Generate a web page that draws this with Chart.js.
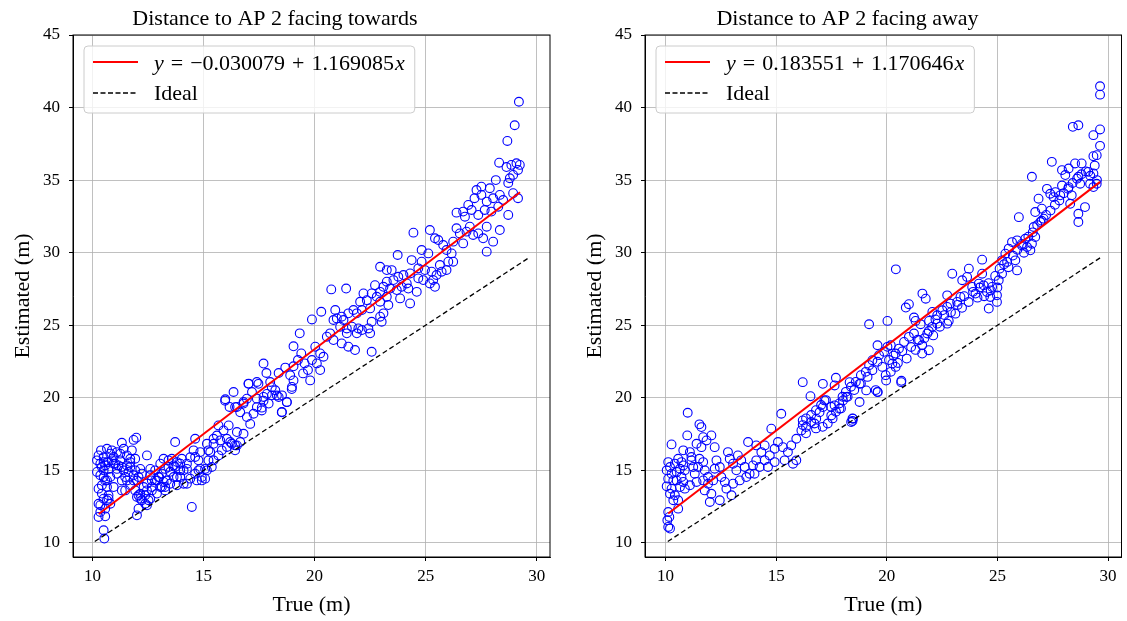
<!DOCTYPE html>
<html>
<head>
<meta charset="utf-8">
<script src="https://cdn.jsdelivr.net/npm/chart.js@4.4.1/dist/chart.umd.min.js"></script>
<style>
  html, body { margin: 0; padding: 0; background: #fff; }
  #wrap { position: relative; width: 1127px; height: 621px; }
  canvas { position: absolute; top: 0; }
</style>
</head>
<body>
<div id="wrap">
  <canvas id="towards" width="572" height="621" style="left:0"></canvas>
  <canvas id="away" width="555" height="621" style="left:572px"></canvas>
</div>
<script>
// ticks
const xTicks = [10, 15, 20, 25, 30];
const yTicks = [10, 15, 20, 25, 30, 35, 40, 45];

// left panel: facing towards
const towardsTrue = [
  10.27, 10.57, 10.5, 10.53, 10.27, 10.35, 10.65, 10.42, 10.57, 10.38, 10.5, 10.65, 10.87, 11.1, 11.32, 10.95, 10.72, 10.5, 10.8, 11.1,
  11.4, 11.25, 11.55, 11.77, 11.85, 11.97, 11.7, 11.47, 11.55, 11.32, 11.92, 10.95, 10.72, 10.8,
  11.92, 12.07, 12.22, 12.37, 12.6, 12.45, 12.67, 12.9, 13.12, 13.35, 13.0, 13.5, 13.72, 13.95, 13.8, 14.1, 13.57, 13.72, 12.45, 12.6,
  12.15, 12.0, 14.47, 12.0, 12.9, 13.27, 14.25, 14.4, 14.62, 14.55, 14.77, 14.85, 15.07, 14.92, 15.15, 15.22, 15.3, 15.45, 15.6, 15.67,
  15.9, 16.05, 16.2, 16.42, 16.5, 16.13, 16.35, 15.97, 16.42, 16.65, 16.8, 16.95, 17.1, 17.25, 17.4, 17.62, 17.7, 17.85, 18.07, 18.3,
  18.52, 18.75, 18.97, 17.02, 17.47,
  15.07, 14.77, 14.62, 14.25, 14.4, 14.7, 14.92, 15.37, 15.45, 15.67, 15.82, 16.05, 16.27, 16.5, 16.42, 16.65, 16.8, 15.75, 15.45, 15.15,
  15.22, 14.85, 14.62, 14.02, 13.8, 13.65, 13.42, 13.27, 13.12, 12.97, 12.82, 12.67, 12.45, 12.3, 12.15, 12.0, 12.37, 12.52, 12.15, 12.07,
  12.45, 12.67, 13.05, 13.27, 13.2, 13.5, 13.65, 13.95, 14.1, 13.8, 14.25, 13.95, 13.42, 13.2, 13.05, 12.82, 12.6, 12.22, 12.07, 11.85,
  11.7, 11.47, 11.32,
  10.2, 10.35, 10.42, 10.57, 10.72, 10.87, 11.02, 11.17, 11.32, 11.55, 11.7, 11.25, 11.4, 10.95, 10.8, 10.65, 10.27, 10.2, 10.35, 10.5,
  10.65, 10.42, 10.65, 10.5, 10.27, 10.72, 10.57, 10.35, 11.1, 11.62, 11.85, 11.92, 11.7, 10.5,
  15.98, 16.17, 16.5, 16.8, 17.03, 17.4, 17.18, 16.95, 17.4, 17.7, 17.62, 17.93, 18.08, 18.23, 18.38, 18.53, 18.75, 18.53, 18.98, 19.05,
  17.7, 17.83, 18.0, 18.38, 18.68, 18.9, 19.05, 19.05, 19.8,
  29.2, 29.01, 28.68, 28.31, 28.64, 28.86, 29.09, 29.24, 29.16, 28.94, 28.79, 28.72, 28.16, 27.89, 27.51, 27.29, 27.2, 27.51, 27.75, 28.04,
  28.34, 28.49, 28.27, 28.72, 29.16, 28.94, 26.39, 26.69, 26.77, 26.92, 27.07, 27.37, 27.66, 27.96, 26.39, 26.54, 26.69, 26.84, 26.99, 27.14,
  27.37, 27.59, 27.75, 28.04, 28.34, 27.75, 25.19, 25.42, 25.57, 25.79, 25.94, 26.24, 26.17, 24.45, 24.82, 25.12, 24.82, 24.67, 24.97, 25.27,
  25.49, 25.72, 25.94, 26.02, 26.24, 25.64, 25.34, 25.19, 25.42, 24.89, 24.67, 24.37, 24.3, 23.74, 23.47, 23.25, 22.95, 23.55, 23.77, 24.0,
  24.15, 23.92, 23.7, 23.4, 23.25, 23.1, 22.95, 22.72, 22.57, 22.8, 23.25, 23.32, 23.85, 24.22, 24.6, 24.3, 22.95, 22.5, 20.75, 21.42,
  22.2, 22.05, 22.35, 22.13, 21.9, 21.75, 21.52, 21.3, 21.22, 20.93, 21.0, 20.85, 20.3, 19.88, 21.15, 21.45, 21.68, 21.97, 22.13, 22.42,
  22.57, 22.95, 23.1, 23.02, 22.5, 21.9, 21.45, 20.7, 20.55, 20.85, 21.22, 21.52, 21.82, 22.57, 20.03, 20.25, 20.4, 19.88, 20.1, 20.25,
  19.33, 19.4, 19.55, 19.7, 19.48, 19.25
];
const towardsEst = [
  11.79, 11.83, 10.87, 10.3, 13.74, 12.6, 12.94, 13.4, 14.3, 16.38, 15.9, 15.57, 16.38, 16.26, 16.9, 15.46, 15.1, 15.0, 14.54, 14.77,
  15.0, 15.69, 16.03, 16.38, 17.1, 17.25, 15.57, 14.54, 14.3, 13.62, 15.0, 13.85, 13.28, 12.7,
  13.62, 13.28, 12.94, 12.7, 13.05, 13.62, 13.85, 14.3, 13.85, 14.3, 14.54, 14.9, 15.23, 15.46, 14.54, 15.0, 15.8, 16.95, 16.03, 15.1,
  15.1, 14.3, 12.48, 11.9, 13.4, 13.62, 15.46, 15.9, 17.18, 16.38, 15.69, 15.1, 14.43, 14.54, 15.0, 15.69, 16.26, 16.83, 17.4, 18.1,
  17.75, 17.18, 16.95, 16.72, 17.64, 18.1, 20.4, 19.8, 19.36, 19.0, 19.6, 18.67, 18.2, 18.9, 19.36, 19.13, 19.8, 20.27, 20.73, 20.16,
  19.0, 19.7, 20.6, 20.96, 20.96,
  15.1, 15.0, 14.77, 15.1, 14.43, 14.31, 14.31, 15.23, 15.69, 16.03, 16.38, 16.61, 16.83, 16.72, 16.38, 16.95, 17.52, 17.06, 17.18, 16.83,
  16.38, 16.26, 15.92, 15.8, 15.57, 15.34, 15.23, 15.1, 14.77, 14.54, 14.31, 14.31, 14.08, 13.85, 13.39, 13.17, 13.28, 12.94, 13.05, 12.36,
  12.59, 13.62, 13.85, 13.85, 14.2, 14.08, 14.54, 14.54, 14.08, 13.97, 14.08, 15.0, 15.69, 15.8, 15.46, 15.0, 14.66, 14.77, 14.54, 14.31,
  13.97, 13.62, 14.31,
  15.69, 15.46, 15.23, 15.34, 15.57, 15.69, 15.46, 15.34, 15.23, 15.34, 15.8, 16.15, 16.49, 15.92, 16.15, 16.49, 16.03, 14.89, 14.66, 14.54,
  14.31, 13.97, 13.85, 13.05, 12.7, 13.05, 12.36, 12.13, 15.1, 14.89, 14.66, 15.8, 15.23, 15.57,
  19.9, 19.37, 19.37, 19.71, 20.98, 21.09, 20.4, 19.94, 19.94, 20.06, 19.32, 19.6, 20.17, 20.52, 20.06, 20.17, 19.71, 19.02, 20.75, 21.2,
  22.36, 21.71, 21.09, 21.71, 22.08, 21.55, 22.17, 23.55, 21.2,
  40.4, 38.78, 37.7, 36.2, 35.9, 36.05, 36.16, 36.05, 35.7, 35.36, 35.13, 34.8, 35.0, 34.44, 34.55, 34.32, 33.75, 33.98, 33.52, 33.75,
  33.98, 33.63, 33.17, 32.6, 33.75, 34.1, 32.76, 32.83, 32.48, 33.29, 32.94, 32.6, 32.94, 32.83, 31.68, 31.33, 30.64, 31.45, 31.79, 31.22,
  31.33, 30.99, 31.79, 30.76, 31.56, 30.07, 31.56, 30.99, 30.87, 30.53, 30.18, 30.76, 29.95, 31.38, 30.18, 29.95, 29.38, 28.92, 28.8, 28.69,
  28.46, 28.69, 28.8, 29.38, 29.38, 29.15, 28.11, 27.88, 27.65, 28.11, 28.23, 29.49, 28.57, 29.84, 28.8, 28.8, 29.03, 28.11, 28.34, 28.46,
  27.88, 27.65, 27.42, 27.53, 28.0, 27.65, 27.3, 27.76, 27.19, 26.96, 26.96, 26.39, 26.85, 27.53, 27.3, 26.5, 26.62, 26.16, 27.47, 27.53,
  27.19, 26.62, 26.73, 26.05, 25.82, 26.05, 25.82, 25.36, 25.59, 26.05, 25.47, 25.36, 25.93, 25.4, 24.9, 24.78, 24.9, 24.78, 24.67, 24.78,
  25.24, 25.59, 25.82, 25.24, 24.44, 24.44, 24.44, 24.44, 24.21, 23.98, 23.75, 23.52, 23.29, 23.17, 23.52, 23.06, 22.83, 22.6, 22.37, 21.91,
  24.44, 23.06, 22.37, 21.91, 21.68, 22.6
];
const towardsFit = [-0.030079, 1.169085];   // intercept, slope
const towardsFitX = [10.28, 29.25];
const towardsIdealX = [10.1, 29.6];

// right panel: facing away
const awayTrue = [
  10.12, 10.2, 10.08, 10.17, 10.12, 10.05, 10.12, 10.05, 10.12, 10.27, 10.2, 10.27, 10.35, 10.27, 10.2, 10.42, 10.35, 10.57, 10.57, 10.5,
  10.5, 10.65, 10.42, 10.57, 10.72, 10.8, 10.87, 10.72, 10.8, 10.87, 10.65, 10.8, 10.98, 11.0, 11.1, 11.17, 11.25, 11.32, 11.17, 11.4,
  11.53, 11.62, 11.7, 11.85, 12.07, 11.62, 11.53, 11.7, 11.47, 11.77, 11.92, 11.77, 12.0, 12.07, 12.22, 12.3, 12.45, 12.22, 12.52, 12.68,
  12.45, 12.75, 12.98, 12.82, 12.9, 13.05, 13.2, 13.27, 13.42, 13.58, 13.73, 13.8, 13.95, 14.1, 14.1, 14.33, 14.48, 14.63, 14.78, 14.48,
  14.71, 14.93, 15.08, 15.23, 15.3, 15.38, 15.53, 15.68, 15.91, 16.14, 16.2, 16.35, 16.58, 16.55, 16.81, 16.96, 17.11, 17.18, 17.49, 17.64,
  17.86, 18.02, 18.17, 18.47, 18.39, 18.77, 19.07, 19.59, 16.2, 17.11, 17.64, 18.32, 18.77, 19.97, 20.65, 15.91, 15.76, 14.93, 14.25, 14.02,
  13.65, 13.35, 13.05, 11.92, 12.15, 11.7, 11.4, 11.1,
  17.7, 18.83, 19.05, 19.2, 19.35, 19.58, 19.65, 19.88, 20.03, 20.18, 20.4, 20.55, 20.78, 21.0, 21.23, 21.46, 21.6, 21.6, 21.9, 21.83,
  22.05, 22.28, 22.73, 19.58, 20.4, 19.95, 20.18, 20.66, 20.25, 19.8, 19.35, 19.13, 18.6,
  16.2, 16.35, 16.58, 16.73, 16.8, 17.03, 17.25, 17.48, 17.7, 17.85, 18.0, 18.15, 18.38, 19.5, 19.58, 18.45, 18.45, 18.53, 18.23, 17.93,
  17.55, 17.33, 17.1, 16.8, 16.35, 18.83,
  19.2, 20.03, 20.41, 20.86, 21.0, 21.61, 21.76, 21.23, 21.3, 21.53, 21.91, 22.06, 22.28, 22.51, 22.73, 22.73, 22.96, 22.88, 23.18, 23.33,
  23.41, 23.63, 23.71, 23.86, 24.01, 24.16, 24.31, 24.31, 24.38, 24.53, 24.61, 24.68, 24.76, 24.98, 24.98, 25.06, 25.21, 25.21, 25.36, 25.44,
  25.51, 25.66, 25.89, 25.81, 25.89, 25.97, 26.11, 26.26, 26.34, 26.49, 26.56, 26.64, 26.71, 26.71, 27.01, 26.94, 27.09, 26.86, 27.24, 27.39,
  27.62, 27.54, 27.84, 27.92, 28.22, 28.36, 28.29, 28.66, 28.66, 28.96, 29.19, 29.34, 29.49, 28.74,
  29.64, 29.64, 28.41, 28.66, 29.64, 29.34, 29.64, 29.49, 29.34, 27.46, 26.56, 27.92, 28.22, 28.51, 28.81, 29.11, 29.34, 28.07, 28.66,
  20.1, 20.3, 20.5, 20.7, 20.9, 21.1, 21.3, 21.4, 21.7, 21.9, 22.1, 22.2, 22.4, 22.6, 22.8, 22.9, 23.1, 23.2, 23.4, 23.5,
  23.7, 23.9, 24.1, 24.2, 24.4, 24.6, 24.7, 24.9, 25.0, 25.1, 25.3, 25.5, 25.7, 25.9, 26.1, 26.2, 26.4, 26.6, 26.8, 27.0,
  27.2, 27.4, 27.6, 27.8, 28.0, 28.2, 28.4, 28.6, 28.8, 29.0, 29.2, 29.4, 29.5
];
const awayEst = [
  11.1, 10.99, 11.56, 11.79, 12.13, 13.9, 14.43, 15.0, 15.57, 16.79, 15.23, 14.77, 14.31, 13.74, 13.39, 13.28, 12.94, 12.94, 12.36, 14.31,
  14.89, 15.11, 15.46, 15.8, 15.57, 15.34, 15.0, 14.54, 14.2, 13.74, 13.85, 16.38, 17.41, 18.97, 16.26, 15.69, 15.23, 14.77, 15.92, 16.83,
  18.17, 17.98, 17.29, 17.06, 17.41, 16.6, 15.8, 15.57, 15.23, 15.0, 14.54, 13.62, 12.82, 13.39, 16.6, 15.69, 15.23, 15.11, 14.54, 14.2,
  12.94, 13.74, 13.28, 16.26, 15.8, 15.46, 15.0, 16.03, 15.69, 15.23, 16.95, 14.77, 15.34, 15.69, 16.72, 16.26, 15.69, 15.23, 17.87, 16.72,
  16.03, 16.49, 16.95, 18.9, 16.6, 15.69, 16.26, 16.72, 17.18, 17.75, 18.44, 17.98, 18.33, 20.11, 18.56, 19.0, 19.36, 19.82, 18.78, 19.48,
  19.25, 19.82, 20.05, 18.56, 18.33, 19.71, 20.51, 20.39, 21.08, 20.96, 20.85, 21.08, 20.96, 21.19, 21.08, 15.69, 15.46, 15.57, 15.23, 14.77,
  14.54, 14.31, 14.08, 14.08, 14.31, 14.31, 14.2, 13.97,
  21.38, 21.56, 21.79, 22.25, 22.59, 22.48, 22.94, 23.17, 23.51, 23.62, 23.05, 23.39, 23.85, 24.2, 24.43, 23.97, 23.62, 23.05, 23.28, 24.43,
  24.89, 25.11, 25.11, 23.62, 22.13, 21.56, 21.79, 21.17, 22.36, 22.13, 21.9, 21.44, 21.1,
  18.12, 18.58, 18.81, 18.23, 19.15, 19.5, 19.84, 19.38, 19.04, 19.61, 20.07, 20.41, 20.76, 20.53, 20.41, 18.58, 18.4, 20.53, 20.07, 19.27,
  18.58, 18.23, 18.0, 17.89, 17.55, 20.99,
  25.07, 25.3, 28.85, 26.22, 26.45, 27.18, 26.83, 25.53, 25.3, 25.07, 25.3, 25.92, 25.69, 26.03, 26.26, 27.06, 28.55, 26.49, 26.61, 26.95,
  28.1, 28.33, 28.9, 27.64, 27.18, 27.87, 29.52, 28.55, 27.75, 27.29, 26.15, 26.95, 27.64, 27.06, 26.61, 28.1, 28.55, 29.47, 29.93, 29.36,
  30.28, 30.73, 30.85, 29.47, 28.78, 32.45, 30.5, 30.96, 30.39, 30.16, 30.62, 31.77, 31.08, 32.8, 33.03, 32.11, 32.34, 33.72, 34.4, 34.06,
  34.17, 33.83, 33.95, 34.63, 34.52, 33.95, 33.37, 32.68, 32.11, 33.14, 34.75, 34.52, 34.75, 34.75,
  41.47, 40.89, 38.67, 38.78, 38.49, 38.1, 37.36, 36.72, 36.65, 36.26, 35.23, 35.69, 35.8, 36.15, 36.15, 35.57, 35.46, 35.35, 35.23,
  22.6, 22.9, 22.4, 23.2, 22.7, 23.5, 23.3, 24.0, 24.1, 24.6, 24.3, 25.4, 24.9, 25.7, 25.3, 25.9, 25.8, 26.4, 26.2, 27.0,
  26.6, 27.3, 26.9, 27.6, 27.0, 27.9, 27.4, 28.4, 27.6, 28.9, 29.2, 29.0, 29.8, 30.2, 30.6, 30.0, 31.1, 31.4, 31.9, 32.2,
  32.6, 32.9, 33.3, 33.6, 34.1, 34.4, 34.8, 35.1, 35.4, 35.6, 35.3, 36.0, 35.0
];
const awayFit = [0.183551, 1.170646];       // intercept, slope
const awayFitX = [10.12, 29.64];
const awayIdealX = [10.1, 29.65];

const FONT = "'Liberation Serif', 'Times New Roman', serif";
Chart.defaults.font.family = FONT;
Chart.defaults.color = '#000';

// black box around the axes + matplotlib-like legend
const axesBox = {
  id: 'axesBox',
  afterDraw(chart, args, opts) {
    const { ctx, chartArea: a } = chart;
    ctx.save();
    ctx.strokeStyle = '#000';
    ctx.lineWidth = 1;
    ctx.strokeRect(a.left, a.top, a.right - a.left, a.bottom - a.top);

    // legend
    const b = opts.fit[0], m = opts.fit[1];
    const parts = [
      ['y', true, 7], ['=', false, 7], [(b < 0 ? '\u2212' : '') + Math.abs(b).toFixed(6), false, 7],
      ['+', false, 7], [m.toFixed(6), false, 1], ['x', true, 0]
    ];
    const fs = 22;
    let tw = 0;
    parts.forEach(p => {
      ctx.font = (p[1] ? 'italic ' : '') + fs + 'px ' + FONT;
      tw += ctx.measureText(p[0]).width + p[2];
    });
    const x0 = a.left + 11, y0 = a.top + 11;
    const w = 9 + 45 + 16 + tw + 10, h = 67;
    ctx.beginPath();
    ctx.roundRect(x0, y0, w, h, 4);
    ctx.fillStyle = 'rgba(255,255,255,0.8)';
    ctx.fill();
    ctx.strokeStyle = '#cccccc';
    ctx.stroke();

    ctx.beginPath();
    ctx.strokeStyle = '#ff0000';
    ctx.lineWidth = 2;
    ctx.moveTo(x0 + 9, y0 + 16);
    ctx.lineTo(x0 + 54, y0 + 16);
    ctx.stroke();
    ctx.beginPath();
    ctx.strokeStyle = '#000';
    ctx.lineWidth = 1.3;
    ctx.setLineDash([5, 2.5]);
    ctx.moveTo(x0 + 9, y0 + 47);
    ctx.lineTo(x0 + 54, y0 + 47);
    ctx.stroke();
    ctx.setLineDash([]);

    ctx.fillStyle = '#000';
    ctx.textBaseline = 'middle';
    ctx.textAlign = 'left';
    let tx = x0 + 70;
    parts.forEach(p => {
      ctx.font = (p[1] ? 'italic ' : '') + fs + 'px ' + FONT;
      ctx.fillText(p[0], tx, y0 + 18);
      tx += ctx.measureText(p[0]).width + p[2];
    });
    ctx.font = fs + 'px ' + FONT;
    ctx.fillText('Ideal', x0 + 70, y0 + 48);
    ctx.restore();
  }
};

function makeChart(id, title, xs, ys, fit, fitX, idealX, xMin, xMax, padRight) {
  const points = xs.map((x, i) => ({ x: x, y: ys[i] }));
  const fitLine = fitX.map(x => ({ x: x, y: fit[0] + fit[1] * x }));
  const ideal = idealX.map(x => ({ x: x, y: x }));
  const grid = { color: '#b0b0b0', lineWidth: 0.8, tickLength: 4, tickColor: '#000', tickWidth: 1 };
  new Chart(document.getElementById(id).getContext('2d'), {
    type: 'scatter',
    data: {
      datasets: [
        { data: fitLine, showLine: true, borderColor: '#ff0000', borderWidth: 2, pointRadius: 0, order: 1 },
        { data: ideal, showLine: true, borderColor: '#000', borderWidth: 1.3, borderDash: [5, 3], pointRadius: 0, order: 2 },
        { data: points, pointStyle: 'circle', pointRadius: 4.4, borderWidth: 1.1,
          borderColor: '#0000ff', backgroundColor: 'rgba(0,0,0,0)', order: 3 }
      ]
    },
    options: {
      responsive: false,
      animation: false,
      events: [],
      layout: { padding: { left: 0, right: padRight, top: 0, bottom: 0 } },
      scales: {
        x: {
          type: 'linear', min: xMin, max: xMax,
          afterBuildTicks: s => { s.ticks = xTicks.map(v => ({ value: v })); },
          afterFit: s => { s.height = 64; },
          ticks: { font: { size: 17 }, color: '#000', padding: 5, maxRotation: 0, autoSkip: false },
          grid: grid,
          border: { display: true, color: '#000', width: 1 },
          title: { display: true, text: 'True (m)', font: { size: 22 }, color: '#000', padding: { top: 0, bottom: 3 } }
        },
        y: {
          type: 'linear', min: 9.03, max: 45,
          afterBuildTicks: s => { s.ticks = yTicks.map(v => ({ value: v })); },
          afterFit: s => { s.width = 73; },
          ticks: { font: { size: 17 }, color: '#000', padding: 9, autoSkip: false },
          grid: grid,
          border: { display: true, color: '#000', width: 1 },
          title: { display: true, text: 'Estimated (m)', font: { size: 22 }, color: '#000', padding: { top: 10, bottom: 0 } }
        }
      },
      plugins: {
        legend: { display: false },
        tooltip: { enabled: false },
        title: { display: true, text: title, font: { size: 22, weight: 'normal' }, color: '#000', padding: { top: 6, bottom: 2.6 } },
        axesBox: { fit: fit }
      }
    },
    plugins: [axesBox]
  });
}

makeChart('towards', 'Distance to AP 2 facing towards', towardsTrue, towardsEst,
  towardsFit, towardsFitX, towardsIdealX, 9.12, 30.6, 22);
makeChart('away', 'Distance to AP 2 facing away', awayTrue, awayEst,
  awayFit, awayFitX, awayIdealX, 9.07, 30.61, 4);
</script>
</body>
</html>
